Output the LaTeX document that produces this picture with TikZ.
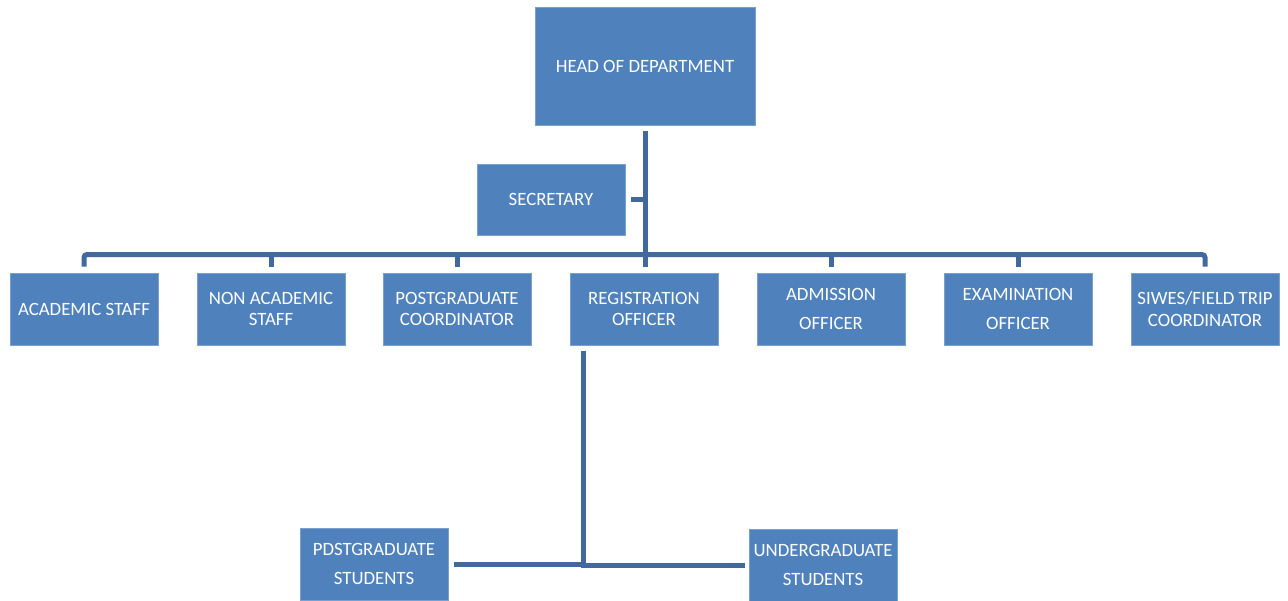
\documentclass[tikz,border=0pt]{standalone}
\usepackage{fontspec}
\setmainfont{Carlito}
\usetikzlibrary{positioning}
\definecolor{boxblue}{HTML}{4F81BD}
\definecolor{lineblue}{HTML}{41699D}

\begin{document}
\begin{tikzpicture}[x=0.02cm, y=-0.02cm,
        box/.style={fill=boxblue, draw=boxblue!75!white, line width=0.4pt, text=white,
                minimum width=2.96cm, minimum height=1.44cm, inner sep=0pt, align=center,
                font=\fontsize{10.7}{12}\selectfont},
        link/.style={draw=lineblue, line width=0.1cm, shorten <=0.12cm, shorten >=0.12cm}]
        \useasboundingbox (0, 0) rectangle (1288, 600);
        % top of the chart
        \node[box, minimum width=4.4cm, minimum height=2.36cm] (hod) at (645, 66) {HEAD OF DEPARTMENT};
        \node[box, minimum height=1.42cm] (sec) at (551, 199.5) {SECRETARY};
        % second row
        \node[box] (acad) at (84, 309) {ACADEMIC STAFF};
        \node[box] (nonac) at (271, 309) {NON ACADEMIC\\STAFF};
        \node[box] (pgc) at (457, 309) {POSTGRADUATE\\COORDINATOR};
        \node[box] (reg) at (644, 309) {REGISTRATION\\OFFICER};
        \node[box] (admit) at (831, 309) {ADMISSION\\[4.5pt]OFFICER};
        \node[box] (exam) at (1018, 309) {EXAMINATION\\[4.5pt]OFFICER};
        \node[box] (siwes) at (1205, 309) {SIWES/FIELD TRIP\\COORDINATOR};
        % students
        \node[box] (pgs) at (374, 564) {PDSTGRADUATE\\[4.5pt]STUDENTS};
        \node[box] (ugs) at (823, 565) {UNDERGRADUATE\\[4.5pt]STUDENTS};

        \coordinate (bar) at (645, 254.5);
        \coordinate (split) at (583, 565);

        \draw[link] (hod.south) -- (hod.south |- reg.north);
        \draw[link, shorten >=0pt] (sec.east) -- (sec.east -| hod.south);
        \draw[link, rounded corners=0.06cm] (acad.north) |- (bar) -| (siwes.north);
        \foreach \n in {nonac, pgc, admit, exam}
                \draw[link, shorten <=0pt] (\n.north |- bar) -- (\n.north);
        \draw[link] (reg.south -| split) |- (pgs.east);
        \draw[link, shorten <=0pt, line cap=rect] (split) -- (ugs.west);
\end{tikzpicture}
\end{document}
